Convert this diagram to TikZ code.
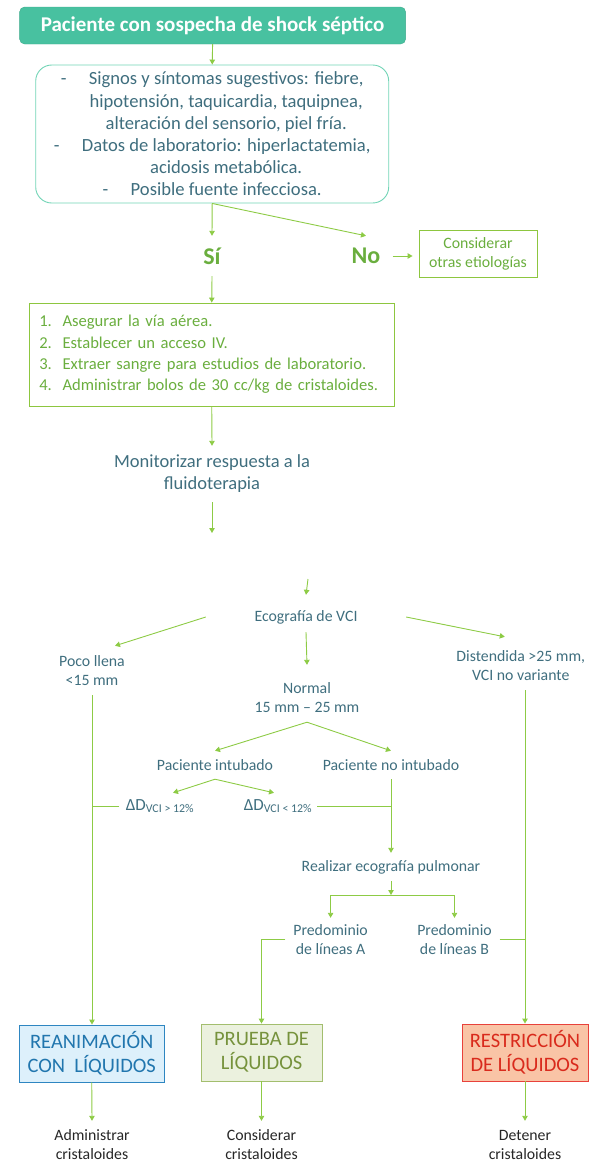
\documentclass[tikz,border=0pt]{standalone}
\usepackage{fontspec}
\setmainfont{Carlito}
\usepackage{tikz}
\usetikzlibrary{calc,positioning,arrows.meta}
\definecolor{linegreen}{HTML}{8DCB45}
\definecolor{titlefill}{HTML}{48C1A0}
\definecolor{titleedge}{HTML}{3DAA8C}
\definecolor{signedge}{HTML}{72D4B6}
\definecolor{txtteal}{HTML}{3F6E7E}
\definecolor{boxgreen}{HTML}{8DC63F}
\definecolor{txtgreen}{HTML}{6AAE3E}
\definecolor{reanfill}{HTML}{DDF0FB}
\definecolor{reanedge}{HTML}{2E86C1}
\definecolor{reantext}{HTML}{2176AE}
\definecolor{pruebafill}{HTML}{EBF1DE}
\definecolor{pruebaedge}{HTML}{A3BE6E}
\definecolor{pruebatext}{HTML}{76923C}
\definecolor{restrfill}{HTML}{F9C4A6}
\definecolor{restredge}{HTML}{E8413B}
\definecolor{restrtext}{HTML}{D92A1C}
\newcommand{\dashitem}{\makebox[28pt][l]{-}}
\newcommand{\contline}{\hspace*{28pt}}
\newcommand{\numitem}[1]{\makebox[23.3pt][l]{#1}}
\tikzset{
  link/.style={draw=linegreen, line width=0.9pt},
  flow/.style={link, -{Triangle[width=5.5pt,length=5pt]}},
  titlebox/.style={
    draw=titleedge,
    fill=titlefill,
    rounded corners=5pt,
    text=white,
    font=\fontsize{21}{24}\selectfont\bfseries,
    minimum width=386pt,
    minimum height=37pt,
    inner sep=0pt,
  },
  signbox/.style={
    draw=signedge,
    rounded corners=16pt,
    line width=0.9pt,
    text=txtteal,
    align=center,
    font=\fontsize{18.6}{22.2}\selectfont,
    minimum width=353pt,
    minimum height=138pt,
    inner sep=0pt,
  },
  stepbox/.style={
    draw=boxgreen,
    line width=0.9pt,
    text=txtgreen,
    align=left,
    text width=345pt,
    inner xsep=10.25pt,
    inner ysep=0pt,
    minimum height=103pt,
    font=\fontsize{16.6}{21.3}\selectfont,
  },
  greenbox/.style={
    draw=boxgreen,
    line width=0.9pt,
    text=txtgreen,
    align=center,
    inner sep=0pt,
    font=\fontsize{15.8}{19}\selectfont,
  },
  yesno/.style={
    text=txtgreen,
    font=\fontsize{24}{26}\selectfont\bfseries,
    minimum height=40pt,
    inner sep=0pt,
  },
  lbl/.style={
    text=txtteal,
    align=center,
    inner sep=0pt,
    font=\fontsize{15.8}{19}\selectfont,
  },
  outbox/.style={
    line width=0.9pt,
    align=center,
    minimum height=57pt,
    inner sep=0pt,
    font=\fontsize{20.5}{24}\selectfont,
  },
  endtxt/.style={
    text=black!85,
    align=center,
    inner sep=0pt,
    minimum height=47pt,
    font=\fontsize{15.8}{19}\selectfont,
  },
}
\begin{document}
\begin{tikzpicture}[x=1pt, y=-1pt]
  \useasboundingbox (0,0) rectangle (589,1165);
  \node[titlebox] (title) at (212.6,25.5) {Paciente con sospecha de shock séptico};
  \node[signbox] (signs) at (212.2,134) {\dashitem Signos y síntomas sugestivos: fiebre,\\
    \contline hipotensión, taquicardia, taquipnea,\\
    \contline alteración del sensorio, piel fría.\\
    \dashitem Datos de laboratorio: hiperlactatemia,\\
    \contline acidosis metabólica.\\
    \dashitem Posible fuente infecciosa.};
  \node[yesno, minimum width=30pt] (si) at (212,256) {Sí};
  \node[yesno, minimum width=53pt] (no) at (366,256) {No};
  \node[greenbox, minimum width=118pt, minimum height=47pt] (otras) at (478,253.5) {Considerar\\otras etiologías};
  \node[stepbox] (steps) at (211.75,354.5) {\numitem{1.}Asegurar la vía aérea.\\
    \numitem{2.}Establecer un acceso IV.\\
    \numitem{3.}Extraer sangre para estudios de laboratorio.\\
    \numitem{4.}Administrar bolos de 30 cc/kg de cristaloides.};
  \node[lbl, font=\fontsize{18.5}{22}\selectfont, minimum height=56pt] (monitor) at (212,474) {Monitorizar respuesta a la\\fluidoterapia};
  \coordinate (gapA) at (212,533);
  \coordinate (gapB) at (308,579);

  \node[lbl, minimum width=200pt, minimum height=30pt] (eco) at (306,617) {Ecografía de VCI};
  \node[lbl, minimum height=49pt] (poco) at (92,670.5) {Poco llena\\<15 mm};
  \node[lbl, minimum height=49pt] (normal) at (307,697.5) {Normal\\15 mm – 25 mm};
  \node[lbl, minimum height=49pt] (dist) at (520.8,665.5) {Distendida >25 mm,\\VCI no variante};
  \node[lbl, minimum height=28pt] (intub) at (215,765) {Paciente intubado};
  \node[lbl, minimum height=28pt] (nointub) at (391,765) {Paciente no intubado};
  \node[lbl, font=\fontsize{17}{19}\selectfont, minimum width=81pt, minimum height=26pt] (dmas) at (160,806) {ΔD\textsubscript{VCI > 12\%}};
  \node[lbl, font=\fontsize{17}{19}\selectfont, minimum width=78pt, minimum height=26pt] (dmenos) at (278,806) {ΔD\textsubscript{VCI < 12\%}};
  \node[lbl, minimum height=28pt] (realizar) at (391,867) {Realizar ecografía pulmonar};
  \coordinate (fork) at (391,895);
  \node[lbl, minimum width=90pt, minimum height=43pt] (predA) at (330.6,939.5) {Predominio\\de líneas A};
  \node[lbl, minimum width=90pt, minimum height=43pt] (predB) at (454.5,939.5) {Predominio\\de líneas B};

  \node[outbox, draw=reanedge, fill=reanfill, text=reantext, minimum width=144.5pt] (rean) at (91.75,1053.5) {REANIMACIÓN\\CON \ LÍQUIDOS};
  \node[outbox, draw=pruebaedge, fill=pruebafill, text=pruebatext, minimum width=121pt] (prueba) at (261.5,1052.5) {PRUEBA DE\\LÍQUIDOS};
  \node[outbox, draw=restredge, fill=restrfill, text=restrtext, minimum width=126pt] (restr) at (525,1052.5) {RESTRICCIÓN\\DE LÍQUIDOS};
  \node[endtxt] (admin) at (92,1144.5) {Administrar\\cristaloides};
  \node[endtxt] (consid) at (261.5,1144.5) {Considerar\\cristaloides};
  \node[endtxt] (deten) at (525,1144.5) {Detener\\cristaloides};

  \draw[flow] (title.south) -- (signs.north);
  \draw[flow] (signs.south) -- (si.north);
  \draw[flow] (signs.south) -- (no.north);
  \draw[flow, shorten >=6pt] (no.east) -- (no.east -| otras.west);
  \draw[flow] (si.south) -- (steps.north);
  \draw[flow] (steps.south) -- (monitor.north);
  \draw[flow] (monitor.south) -- (gapA);
  \draw[flow] (gapB) -- ([yshift=7pt]eco.north);
  \draw[flow] (eco.west) -- ([xshift=23pt]poco.north);
  \draw[flow] (eco.south) -- ([yshift=8pt]normal.north);
  \draw[flow] (eco.east) -- ([xshift=-16pt,yshift=4pt]dist.north);
  \draw[flow] (normal.south) -- (intub.north);
  \draw[flow] (normal.south) -- (nointub.north);
  \draw[flow] (intub.south) -- ([xshift=13pt]dmas.north);
  \draw[flow] (intub.south) -- ([xshift=-4pt]dmenos.north);
  \draw[link] (dmas.west) -- (dmas.west -| poco.south);
  \draw[link] (dmenos.east) -- (dmenos.east -| nointub.south);
  \draw[flow] (nointub.south) -- (realizar.north);
  \draw[flow] (realizar.south) -- (fork);
  \draw[link] (fork -| predA) -- (fork -| predB);
  \draw[flow] (fork -| predA) -- (predA.north);
  \draw[flow] (fork -| predB) -- (predB.north);
  \draw[flow] (predA.west) -| (prueba.north);
  \draw[link] (predB.east) -- (predB.east -| restr.north);
  \draw[flow] (poco.south) -- (poco.south |- rean.north);
  \draw[flow] (dist.south -| restr.north) -- (restr.north);
  \foreach \src/\dst in {rean/admin, prueba/consid, restr/deten}
    \draw[flow] (\src.south) -- (\dst.north);
\end{tikzpicture}
\end{document}
